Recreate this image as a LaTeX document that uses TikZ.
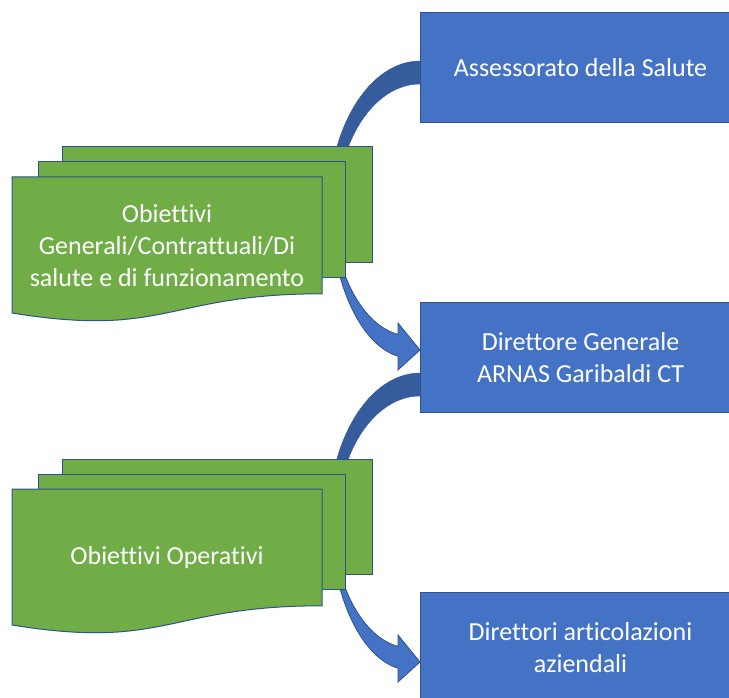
\documentclass[tikz,border=0pt]{standalone}
\usepackage{fontspec}
\setmainfont{Carlito}[Ligatures={NoCommon,NoContextual}]
\definecolor{boxblue}{HTML}{4472C4}
\definecolor{edgeblue}{HTML}{2F528F}
\definecolor{leafgreen}{HTML}{70AD47}
\definecolor{arcdark}{HTML}{365C9E}
\begin{document}
\begin{tikzpicture}[x=1pt,y=-1pt,
  sheet/.style={fill=leafgreen, draw=edgeblue, line width=1pt},
  bluebox/.style={fill=boxblue, draw=edgeblue, line width=1pt, minimum width=320pt, minimum height=110pt, anchor=north west, inner sep=0pt},
  txt/.style={text=white, font=\fontsize{26}{32}\selectfont, align=center, inner sep=0pt},
  toparc/.style={fill=arcdark, draw=arcdark, line width=0.4pt},
  botarc/.style={fill=boxblue, draw=edgeblue, line width=0.8pt}]
\useasboundingbox (0,0) rectangle (729,698);
\clip (0,0) rectangle (729,698);
\foreach \dy in {0,312} {
  \begin{scope}[shift={(0,\dy)}]
    % curved arrow up to the box above
    \filldraw[toparc] plot[domain=90:0, samples=40] ({420-92*cos(\x)}, {211-150*sin(\x)})
      -- plot[domain=0:90, samples=40] ({420-83*cos(\x)}, {211-127*sin(\x)}) -- cycle;
    % curved arrow down to the box below
    \filldraw[botarc] plot[domain=18:81.4, samples=40] ({410-80*cos(\x)}, {200+158*sin(\x)})
      -- (398,370) -- (420,350) -- (398,323)
      -- plot[domain=81.15:21, samples=40] ({410-78*cos(\x)}, {200+136*sin(\x)}) -- cycle;
    % stacked documents
    \draw[sheet] (62,147) rectangle (372,262);
    \draw[sheet] (38,162) rectangle (345,277);
    \draw[sheet] (12,177) -- (322,177) -- (322,293.8)
      .. controls (167,293.8) and (167,338.2) .. (12,313) -- cycle;
  \end{scope}
}
\node[txt] (g1) at (167,246) {Obiettivi\\Generali/Contrattuali/Di\\salute e di funzionamento};
\node[txt] (g2) at (167,558) {Obiettivi Operativi};
\node[bluebox] (b1) at (420,12) {};
\node[txt] at (b1.center) {Assessorato della Salute};
\node[bluebox] (b2) at (420,302) {};
\node[txt] at (b2.center) {Direttore Generale\\ARNAS Garibaldi CT};
\node[bluebox] (b3) at (420,592) {};
\node[txt] at (b3.center) {Direttori articolazioni\\aziendali};
\end{tikzpicture}
\end{document}
